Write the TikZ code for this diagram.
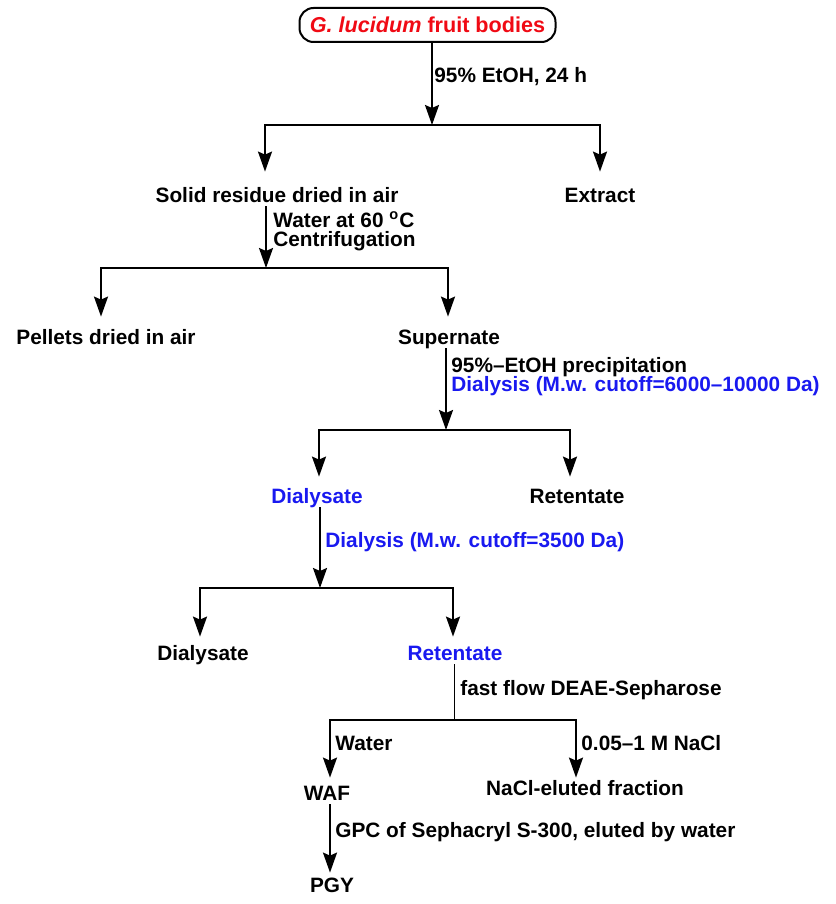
\documentclass[tikz,border=0pt]{standalone}
\usepackage{fontspec}
\setmainfont{Liberation Sans}
\usetikzlibrary{arrows.meta}

\definecolor{fruitred}{RGB}{240,10,20}
\definecolor{dialblue}{RGB}{25,25,240}

\tikzset{
  txt/.style={font=\bfseries\fontsize{10.4}{12}\selectfont, inner sep=0pt,
    text height=7.5pt, text depth=2pt, anchor=base},
  stp/.style={txt, anchor=base west},
  flow/.style={line width=1pt, -{Stealth[length=10pt,width=7pt,inset=1.5pt]}},
  fork/.style={line width=1pt,
    {Stealth[length=10pt,width=7pt,inset=1.5pt]}-{Stealth[length=10pt,width=7pt,inset=1.5pt]}},
}

\begin{document}
\begin{tikzpicture}[x=0.5pt, y=-0.5pt]
  \useasboundingbox (0,0) rectangle (835,904);

  % start
  \node[draw, rounded corners=7pt, line width=1pt, minimum width=128pt,
        minimum height=17pt, inner sep=0pt,
        font=\bfseries\fontsize{10.8}{12}\selectfont, text=fruitred]
        (top) at (427.5,25) {\textit{G. lucidum} fruit bodies};

  % junctions of the forks
  \coordinate (j1)  at (432,125);
  \coordinate (b1l) at (265,125);
  \coordinate (b1r) at (600,125);
  \coordinate (j2)  at (266,268);
  \coordinate (b2l) at (101,268);
  \coordinate (b2r) at (448,268);
  \coordinate (j3)  at (446,430);
  \coordinate (b3l) at (319,430);
  \coordinate (b3r) at (570,430);
  \coordinate (j4)  at (320,588);
  \coordinate (b4l) at (200,588);
  \coordinate (b4r) at (453,588);
  \coordinate (j5)  at (454,720);
  \coordinate (b5l) at (330,720);
  \coordinate (b5r) at (576,720);

  % products
  \node[txt] (solid)      at (277,202) {Solid residue dried in air};
  \node[txt] (extract)    at (600,202) {Extract};
  \node[txt] (pellets)    at (106,344) {Pellets dried in air};
  \node[txt] (supernate)  at (449,344) {Supernate};
  \node[txt, text=dialblue] (dialysate1) at (317,503) {Dialysate};
  \node[txt] (retentate1) at (577,503) {Retentate};
  \node[txt] (dialysate2) at (203,660) {Dialysate};
  \node[txt, text=dialblue] (retentate2) at (455,660) {Retentate};
  \node[txt] (waf)        at (327,800) {WAF};
  \node[txt] (nacl)       at (585,795) {NaCl-eluted fraction};
  \node[txt] (pgy)        at (332,892) {PGY};

  % steps
  \node[stp] (s1)  at (434,83)  {95\% EtOH, 24 h};
  \node[stp] (s2a) at (273,227) {Water at 60 \textsuperscript{o}C};
  \node[stp] (s2b) at (273,246) {Centrifugation};
  \node[stp] (s3a) at (451,372) {95\%--EtOH precipitation};
  \node[stp, text=dialblue] (s3b) at (451,391) {Dialysis (M.w. cutoff=6000--10000 Da)};
  \node[stp, text=dialblue] (s4)  at (325,547) {Dialysis (M.w. cutoff=3500 Da)};
  \node[stp] (s5)  at (460,695) {fast flow DEAE-Sepharose};
  \node[stp] (s6a) at (335,750) {Water};
  \node[stp] (s6b) at (581,750) {0.05--1 M NaCl};
  \node[stp] (s7)  at (335,837) {GPC of Sephacryl S-300, eluted by water};

  % connectors
  \draw[flow] (top.south -| j1) -- (j1);
  \draw[fork, shorten <=7.5pt, shorten >=7.5pt]
    (b1l |- solid.north) -- (b1l) -- (b1r) -- (b1r |- extract.north);

  \draw[flow] (solid.south -| j2) -- (j2);
  \draw[fork, shorten <=6pt, shorten >=6pt]
    (b2l |- pellets.north) -- (b2l) -- (b2r) -- (b2r |- supernate.north);

  \draw[flow] (supernate.south -| j3) -- (j3);
  \draw[fork, shorten <=5.5pt, shorten >=5.5pt]
    (b3l |- dialysate1.north) -- (b3l) -- (b3r) -- (b3r |- retentate1.north);

  \draw[flow] (dialysate1.south -| j4) -- (j4);
  \draw[fork, shorten <=4pt, shorten >=4pt]
    (b4l |- dialysate2.north) -- (b4l) -- (b4r) -- (b4r |- retentate2.north);

  \draw[line width=0.5pt] (retentate2.south -| j5) -- (j5);
  \draw[fork, shorten <=3.5pt, shorten >=1pt]
    (b5l |- waf.north) -- (b5l) -- (b5r) -- (b5r |- nacl.north);

  \draw[flow, shorten >=2pt] (waf.south -| b5l) -- (pgy.north -| b5l);
\end{tikzpicture}
\end{document}
